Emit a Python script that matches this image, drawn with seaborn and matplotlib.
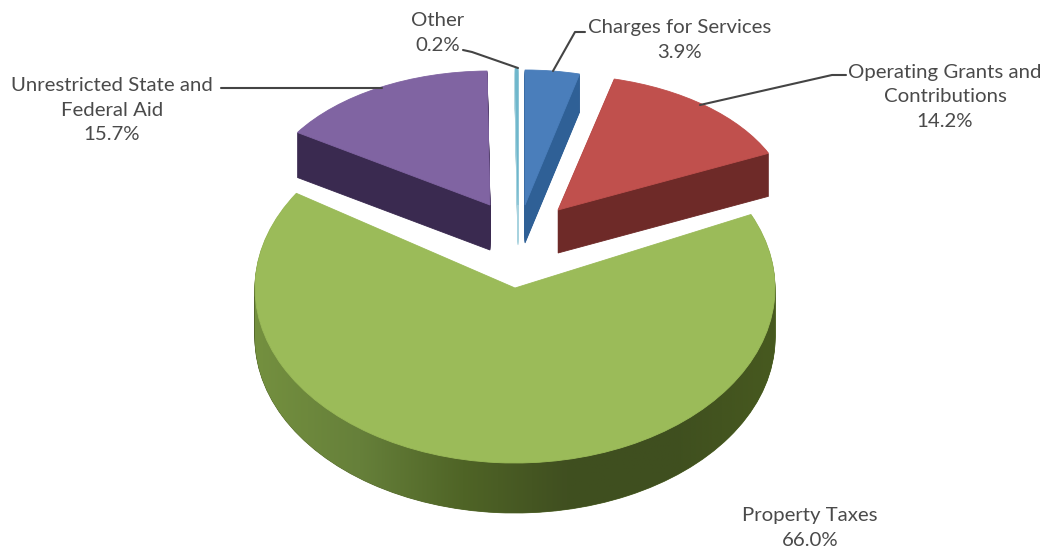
import numpy as np
import seaborn as sns
import matplotlib.pyplot as plt
from matplotlib.colors import LinearSegmentedColormap
from matplotlib.patches import Polygon
from matplotlib.transforms import Affine2D

labels = ["Charges for Services", "Operating Grants and\nContributions", "Property Taxes",
          "Unrestricted State and\nFederal Aid", "Other"]
values = [3.9, 14.2, 66.0, 15.7, 0.2]

top_colors = ["#4a7ebb", "#c0504d", "#9bbb59", "#8064a2", "#6fb7cc"]
side_colors = ["#2f6096", "#6e2a28", "#55692c", "#3a2a50", "#a8d3df"]
green_wall = ["#74903f", "#66803a", "#4f6426", "#404f20", "#3f4f1f", "#47591f"]

# where each exploded slice sits, in pixels: x, y, x radius, y radius, depth
slice_geom = [(525, 205, 225, 135, 38),
              (558, 210, 232, 135, 43),
              (515, 288, 260, 175, 50),
              (490, 205, 229, 134, 45),
              (518, 205, 225, 137, 40)]

label_pos = [(680, 40), (945, 97), (810, 528), (112, 110), (438, 33)]
leaders = [[(585, 32), (575, 32), (553, 71)],
           [(846, 75), (832, 75), (700, 105)],
           [(221, 88), (382, 88)],
           [(463, 50), (472, 52), (518, 68)]]

sns.set_theme(style="white")
plt.rcParams['font.family'] = ['Lato', 'DejaVu Sans']

fig, ax = plt.subplots(figsize=(10.5, 5.5), dpi=100)
fig.subplots_adjust(0, 0, 1, 1)


def add_slice(idx, shift, color, z):
    x, y, rx, ry, depth = slice_geom[idx]
    wedges, _ = ax.pie(values, startangle=90, counterclock=False, colors=[color] * len(values),
                       wedgeprops=dict(linewidth=0.6, edgecolor=color, zorder=z))
    for j, w in enumerate(wedges):
        if j != idx:
            w.remove()
    tr = Affine2D().scale(rx, ry).translate(x, 550 - y - shift)
    wedges[idx].set_transform(tr + ax.transData)


for i in range(len(values)):
    depth = slice_geom[i][4]
    for d in range(depth, 0, -1):
        add_slice(i, d, side_colors[i], 1)

    if i == 2:
        # shaded outer wall of the big slice
        x, y, rx, ry, depth = slice_geom[2]
        t = np.radians(np.linspace(0, 180, 120))
        arc_x = x + rx * np.cos(t)
        arc_y = 550 - y - ry * np.sin(t)
        pts = np.vstack([np.column_stack([arc_x, arc_y]),
                         np.column_stack([arc_x[::-1], arc_y[::-1] - depth])])
        cmap = LinearSegmentedColormap.from_list("wall", green_wall)
        img = ax.imshow(np.linspace(0, 1, 256)[None, :], cmap=cmap, aspect="auto", zorder=2,
                        extent=(x - rx, x + rx, 550 - y - ry - depth, 550 - y))
        img.set_clip_path(Polygon(pts, transform=ax.transData))

    add_slice(i, 0, top_colors[i], 3)

for line in leaders:
    xs = [p[0] for p in line]
    ys = [550 - p[1] for p in line]
    ax.plot(xs, ys, color="#444444", lw=1.5, solid_capstyle="round", zorder=4)

for name, val, (px, py) in zip(labels, values, label_pos):
    ax.text(px, 550 - py, f"{name}\n{val:.1f}%", ha="center", va="center",
            fontsize=14.7, color="#4a4a4a", linespacing=1.55)

ax.set_aspect("auto")
ax.set_xlim(0, 1050)
ax.set_ylim(0, 550)
ax.axis("off")

fig.savefig("out.png", dpi=100, facecolor="white")
